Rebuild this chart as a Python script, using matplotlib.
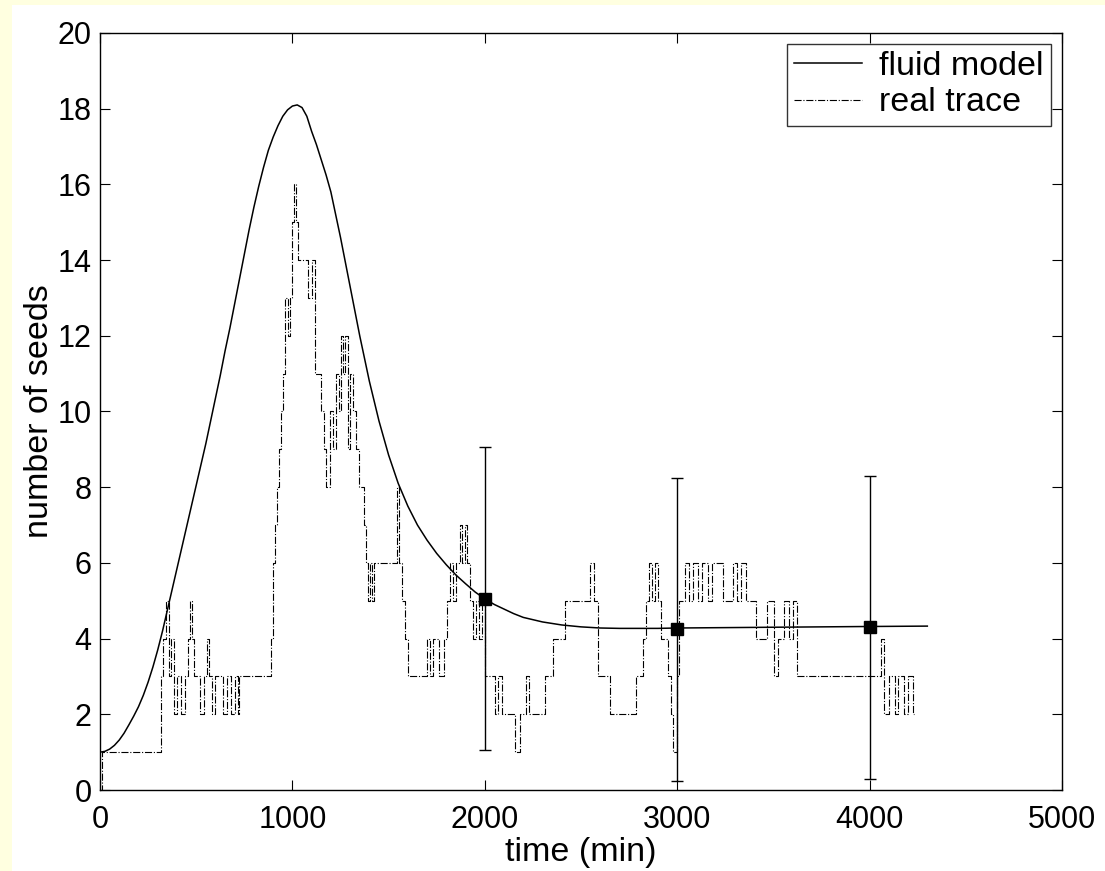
import matplotlib
matplotlib.use('Agg')
import matplotlib.pyplot as plt
from matplotlib.patches import Rectangle

plt.rcParams['font.family'] = ['Liberation Sans', 'DejaVu Sans']

# fluid model curve
model_t = [0, 25, 50, 75, 100, 125, 150, 175, 200, 225, 250, 275, 300, 325,
           350, 375, 400, 425, 450, 475, 500, 525, 550, 575, 600, 625, 650,
           675, 700, 725, 750, 775, 800, 825, 850, 875, 900, 925, 950, 975,
           1000, 1025, 1050, 1075, 1100, 1125, 1150, 1175, 1200, 1250, 1300,
           1350, 1400, 1450, 1500, 1550, 1600, 1650, 1700, 1750, 1800, 1850,
           1900, 1950, 2000, 2050, 2100, 2150, 2200, 2300, 2400, 2500, 2600,
           2700, 2800, 2900, 3000, 3500, 4000, 4300]
model_v = [1.0, 1.02, 1.08, 1.18, 1.32, 1.5, 1.72, 1.95, 2.2, 2.5, 2.85, 3.25,
           3.7, 4.2, 4.75, 5.3, 5.85, 6.4, 6.95, 7.5, 8.05, 8.6, 9.15, 9.75,
           10.35, 10.95, 11.6, 12.2, 12.85, 13.5, 14.15, 14.8, 15.4, 15.95,
           16.45, 16.9, 17.25, 17.55, 17.8, 17.97, 18.07, 18.1, 18.03, 17.8,
           17.4, 17.05, 16.65, 16.25, 15.8, 14.6, 13.3, 12.0, 10.8, 9.75, 8.85,
           8.1, 7.5, 7.0, 6.6, 6.25, 5.95, 5.68, 5.45, 5.23, 5.05, 4.9, 4.78,
           4.66, 4.56, 4.44, 4.36, 4.31, 4.28, 4.27, 4.27, 4.27, 4.28, 4.3,
           4.32, 4.33]

# real trace (step changes)
trace_t = [0, 10, 315, 330, 345, 358, 370, 385, 400, 420, 440, 455, 470, 480,
           490, 520, 540, 555, 565, 580, 600, 640, 660, 680, 700, 715, 725, 890,
           900, 910, 920, 930, 940, 950, 960, 975, 985, 1000, 1010, 1020, 1030,
           1080, 1100, 1115, 1150, 1165, 1175, 1195, 1210, 1225, 1240, 1255,
           1265, 1275, 1290, 1300, 1315, 1330, 1345, 1370, 1385, 1395, 1405,
           1415, 1425, 1545, 1555, 1570, 1585, 1600, 1700, 1715, 1730, 1760,
           1790, 1805, 1820, 1835, 1850, 1870, 1880, 1895, 1910, 1925, 1940,
           1955, 1970, 1985, 2000, 2055, 2070, 2090, 2155, 2185, 2215, 2230,
           2315, 2355, 2415, 2545, 2565, 2590, 2650, 2785, 2820, 2840, 2855,
           2870, 2885, 2900, 2915, 2950, 2970, 2980, 3000, 3010, 3040, 3060,
           3080, 3110, 3130, 3160, 3180, 3240, 3290, 3310, 3330, 3355, 3410,
           3465, 3505, 3525, 3555, 3580, 3600, 3625, 4060, 4075, 4100, 4130,
           4150, 4180, 4200, 4225, 4230]
trace_v = [0, 1, 3, 4, 5, 3, 4, 2, 3, 2, 3, 4, 5, 4,
           3, 2, 3, 4, 3, 2, 3, 2, 3, 2, 3, 2, 3, 4,
           6, 7, 8, 9, 10, 11, 13, 12, 13, 15, 16, 15, 14,
           13, 14, 11, 10, 9, 8, 10, 9, 11, 10, 12,
           11, 12, 9, 11, 10, 9, 8, 7, 6, 5, 6,
           5, 6, 8, 6, 5, 4, 3, 4, 3, 4, 3,
           4, 5, 6, 5, 6, 7, 6, 7, 6, 5, 4,
           5, 4, 5, 3, 2, 3, 2, 1, 2, 3, 2,
           3, 4, 5, 6, 5, 3, 2, 3, 4, 5, 6,
           5, 6, 5, 4, 3, 2, 1, 3, 5, 6, 5,
           6, 5, 6, 5, 6, 5, 6, 5, 6, 5, 4,
           5, 3, 4, 5, 4, 5, 3, 4, 2, 3, 2,
           3, 2, 3, 2, 2]

# error bars on the model
err_t = [2000, 3000, 4000]
err_v = [5.05, 4.25, 4.3]
err_e = [4.0, 4.0, 4.0]

fig = plt.figure(figsize=(11.05, 8.71), dpi=100)
fig.patch.set_facecolor('#ffffe0')
fig.patches.append(Rectangle((12 / 1105, 0), 1, 1 - 5 / 871,
                             transform=fig.transFigure, facecolor='white',
                             edgecolor='none', zorder=-1))
ax = fig.add_axes([100 / 1105, 1 - 790 / 871, 962 / 1105, 757 / 871])

ax.plot(model_t, model_v, color='black', lw=1.1, label='fluid model')
ax.plot(trace_t, trace_v, color='black', lw=0.8, linestyle='-.',
        drawstyle='steps-post', label='real trace')
ax.errorbar(err_t, err_v, yerr=err_e, fmt='s', color='black', ms=8.5,
            capsize=4, elinewidth=1.0, capthick=1.0)

ax.set_xlim(0, 5000)
ax.set_ylim(0, 20)
ax.set_xticks(range(0, 5001, 1000))
ax.set_yticks(range(0, 21, 2))
ax.tick_params(direction='in', length=7, width=0.8, labelsize=22,
               top=True, right=True)
ax.tick_params(axis='x', pad=11)
ax.tick_params(axis='y', pad=6)
for s in ax.spines.values():
    s.set_linewidth(1.0)

ax.set_xlabel('time (min)', fontsize=24.5, labelpad=1)
ax.set_ylabel('number of seeds', fontsize=24.5, labelpad=2)

leg = ax.legend(loc='upper right', fontsize=24.5, frameon=True, fancybox=False,
                edgecolor='black', handlelength=2.0, handletextpad=0.5,
                borderaxespad=0.32, labelspacing=0.15, borderpad=0.22)
leg.get_frame().set_linewidth(1.0)

fig.savefig('out.png', dpi=100, facecolor=fig.get_facecolor())
